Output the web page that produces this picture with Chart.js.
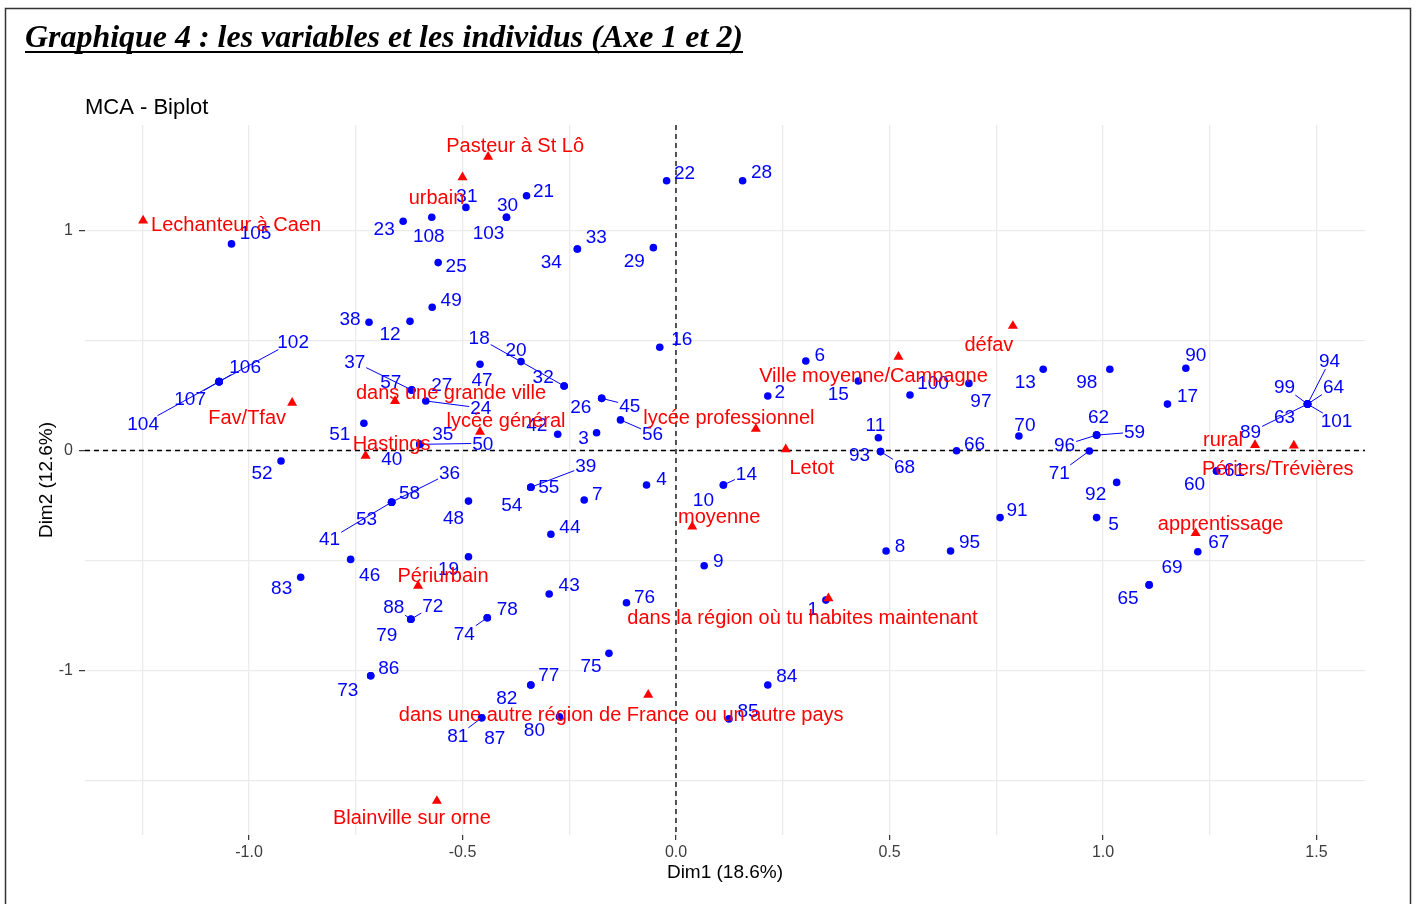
<!DOCTYPE html>
<html lang="fr">
<head>
<meta charset="utf-8">
<title>MCA - Biplot</title>
<script src="https://cdn.jsdelivr.net/npm/chart.js@4.4.1/dist/chart.umd.min.js"></script>
<style>
  html, body { margin: 0; padding: 0; background: #fff; }
  #wrap { position: relative; width: 1417px; height: 904px; }
</style>
</head>
<body>
<div id="wrap"><canvas id="biplot" width="1417" height="904"></canvas></div>
<script>
// Individuals 1..108 on the first two MCA dimensions
const indLabels = Array.from({ length: 108 }, (_, i) => String(i + 1));
const indDim1 = [
  0.351, 0.215, -0.186, -0.069, 0.985, 0.304, -0.215, 0.492, 0.066, 0.111,
  0.474, -0.623, 0.860, 0.111, 0.427, -0.038, 1.151, -0.262, -0.486, -0.363,
  -0.350, -0.022, -0.639, -0.586, -0.557, -0.174, -0.619, 0.156, -0.053, -0.397,
  -0.492, -0.262, -0.231, -0.231, -0.600, -0.666, -0.619, -0.719, -0.340, -0.600,
  -0.666, -0.277, -0.297, -0.293, -0.174, -0.762, -0.459, -0.486, -0.571, -0.600,
  -0.731, -0.925, -0.666, -0.340, -0.340, -0.130, -0.619, -0.666, 0.985, 1.266,
  1.266, 0.985, 1.479, 1.479, 1.108, 0.657, 1.222, 0.479, 1.108, 0.803,
  0.968, -0.621, -0.715, -0.442, -0.157, -0.116, -0.340, -0.442, -0.621, -0.273,
  -0.455, -0.340, -0.879, 0.215, 0.124, -0.715, -0.455, -0.621, 1.479, 1.194,
  0.759, 1.032, 0.479, 1.479, 0.643, 0.985, 0.686, 1.016, 1.479, 0.548,
  1.479, -1.070, -0.397, -1.070, -1.041, -1.070, -1.070, -0.572
];
const indDim2 = [
  -0.680, 0.248, 0.081, -0.157, -0.305, 0.407, -0.225, -0.457, -0.524, -0.157,
  0.058, 0.587, 0.369, -0.157, 0.316, 0.469, 0.211, 0.293, -0.483, 0.404,
  1.158, 1.226, 1.042, 0.225, 0.854, 0.237, 0.275, 1.226, 0.922, 1.060,
  1.105, 0.293, 0.916, 0.916, 0.028, -0.235, 0.275, 0.583, -0.167, 0.028,
  -0.235, 0.074, -0.652, -0.381, 0.237, -0.495, 0.392, -0.230, 0.651, 0.028,
  0.124, -0.048, -0.235, -0.167, -0.167, 0.139, 0.275, -0.235, 0.070, -0.093,
  -0.093, 0.070, 0.211, 0.211, -0.611, -0.001, -0.460, -0.005, -0.611, 0.066,
  -0.002, -0.767, -1.024, -0.760, -0.922, -0.692, -1.066, -0.760, -0.767, -1.210,
  -1.215, -1.066, -0.576, -1.066, -1.220, -1.024, -1.215, -0.767, 0.211, 0.374,
  -0.305, -0.145, -0.005, 0.211, -0.457, 0.070, 0.305, 0.369, 0.211, 0.252,
  0.211, 0.313, 1.060, 0.313, 0.939, 0.313, 0.313, 1.060
];

// Variable categories
const varLabels = [
  "Lechanteur à Caen", "Pasteur à St Lô", "urbain", "défav", "Ville moyenne/Campagne",
  "dans une grande ville", "Fav/Tfav", "lycée général", "lycée professionnel", "Hastings",
  "Letot", "rural", "Périers/Trévières", "moyenne", "apprentissage", "Périurbain",
  "dans la région où tu habites maintenant",
  "dans une autre région de France ou un autre pays", "Blainville sur orne"
];
const varDim1 = [
  -1.248, -0.440, -0.500, 0.789, 0.521, -0.658, -0.899, -0.459, 0.187, -0.727,
  0.257, 1.356, 1.447, 0.038, 1.217, -0.604, 0.357, -0.065, -0.560
];
const varDim2 = [
  1.045, 1.335, 1.242, 0.566, 0.426, 0.225, 0.217, 0.085, 0.098, -0.024,
  0.005, 0.025, 0.022, -0.346, -0.376, -0.615, -0.672, -1.111, -1.593
];

const xTickValues = [-1.25, -1, -0.75, -0.5, -0.25, 0, 0.25, 0.5, 0.75, 1, 1.25, 1.5];
const xTickLabels = ["", "-1.0", "", "-0.5", "", "0.0", "", "0.5", "", "1.0", "", "1.5"];
const yTickValues = [-1.5, -1, -0.5, 0, 0.5, 1];
const yTickLabels = ["", "-1", "", "0", "", "1"];

const heading = "Graphique 4 : les variables et les individus (Axe 1 et 2)";

// label placement (pixel nudges from each point), repelled-label style
const indNudge = [
  [-13, 9], [12, -4], [-13, 5], [15, -6], [17, 6], [14, -6], [13, -6], [14, -5], [14, -5], [-20, 15],
  [-3, -13], [-20, 12], [-18, 12], [23, -11], [-20, 13], [22, -9], [20, -8], [-85, -48], [-20, 12], [-5, -12],
  [17, -5], [18, -8], [-19, 8], [55, 7], [18, 3], [-21, 8], [30, -5], [19, -9], [-19, 13], [1, -13],
  [1, -12], [-21, -9], [19, -12], [-26, 13], [23, -11], [58, -29], [-57, -28], [-19, -3], [55, -21], [-28, 14],
  [-62, 37], [-21, -9], [20, -9], [19, -8], [28, 7], [19, 15], [2, 16], [-15, 17], [19, -8], [63, -1],
  [-24, 11], [-19, 12], [-25, 17], [-19, 18], [18, 0], [32, 14], [-21, -8], [18, -9], [38, -3], [-22, 13],
  [18, -1], [2, -18], [-23, 13], [26, -17], [-21, 13], [18, -7], [21, -10], [24, 15], [23, -18], [6, -11],
  [-30, 22], [22, -13], [-23, 14], [-23, 16], [-18, 12], [18, -6], [18, -10], [20, -9], [-24, 16], [-25, 13],
  [-24, 18], [-24, 13], [-19, 11], [19, -9], [19, -8], [18, -8], [13, 20], [-17, -12], [-57, 28], [10, -13],
  [17, -8], [-21, 11], [-21, 3], [22, -43], [19, -9], [-32, 10], [12, 17], [-23, 12], [-23, -17], [23, -12],
  [29, 17], [74, -40], [-18, 15], [-76, 42], [24, -11], [26, -15], [-29, 17], [-3, 18]
];
const indWithSegment = new Set(["14", "18", "24", "36", "37", "39", "41", "45", "50", "56", "59", "64", "68",
  "71", "72", "74", "81", "88", "89", "94", "96", "99", "101", "102", "104", "106", "107"]);
const varNudge = [
  [93, 4], [27, -11], [-26, 20], [-24, 19], [-25, 19], [56, -9], [-45, 15], [26, -11], [-27, -11], [26, -12],
  [26, 18], [-32, -6], [-16, 23], [27, -10], [25, -10], [25, -10], [-26, 19], [-27, 20], [-25, 17]
];

const SANS = '"Liberation Sans", Arial, Helvetica, sans-serif';

function drawLabels(ctx, points, names, nudges, color, size, withSegment) {
  ctx.save();
  ctx.font = size + 'px ' + SANS;
  ctx.textAlign = 'center';
  ctx.textBaseline = 'middle';
  ctx.strokeStyle = color;
  ctx.lineWidth = 1;
  // segments first, text on top
  points.forEach((pt, i) => {
    if (!withSegment || !withSegment.has(names[i])) return;
    const lx = pt.x + nudges[i][0], ly = pt.y + nudges[i][1];
    const hw = ctx.measureText(names[i]).width / 2 + 1;
    const hh = size * 0.42;
    const vx = pt.x - lx, vy = pt.y - ly;
    const s = Math.min(vx ? hw / Math.abs(vx) : Infinity, vy ? hh / Math.abs(vy) : Infinity);
    if (s >= 1) return;
    ctx.beginPath();
    ctx.moveTo(pt.x, pt.y);
    ctx.lineTo(lx + vx * s, ly + vy * s);
    ctx.stroke();
  });
  ctx.fillStyle = color;
  points.forEach((pt, i) => {
    ctx.fillText(names[i], pt.x + nudges[i][0], pt.y + nudges[i][1] + 1);
  });
  ctx.restore();
}

const biplotDecor = {
  id: 'biplotDecor',
  beforeDraw(chart) {
    const ctx = chart.ctx;
    ctx.save();
    ctx.fillStyle = '#fff';
    ctx.fillRect(0, 0, chart.width, chart.height);
    // outer frame
    ctx.strokeStyle = '#333';
    ctx.lineWidth = 1.5;
    ctx.strokeRect(5.5, 8.5, 1405, 900);
    // underlined heading, narrowed to its box
    ctx.fillStyle = '#000';
    ctx.font = 'italic bold 32px "Liberation Serif", "Times New Roman", serif';
    ctx.textBaseline = 'alphabetic';
    const w = ctx.measureText(heading).width;
    ctx.save();
    ctx.translate(25, 47);
    ctx.scale(718 / w, 1);
    ctx.fillText(heading, 0, 0);
    ctx.restore();
    ctx.fillRect(25, 51, 718, 2);
    // plot title
    ctx.font = '22px ' + SANS;
    ctx.fillText('MCA - Biplot', 85, 114);
    ctx.restore();
  },
  beforeDatasetsDraw(chart) {
    const { ctx, chartArea: a, scales } = chart;
    const x0 = scales.x.getPixelForValue(0);
    const y0 = scales.y.getPixelForValue(0);
    ctx.save();
    ctx.strokeStyle = '#000';
    ctx.lineWidth = 1.3;
    ctx.setLineDash([5, 4]);
    ctx.beginPath();
    ctx.moveTo(a.left, y0); ctx.lineTo(a.right, y0);
    ctx.moveTo(x0, a.top); ctx.lineTo(x0, a.bottom);
    ctx.stroke();
    ctx.restore();
  },
  afterDatasetDraw(chart, args) {
    const meta = chart.getDatasetMeta(args.index);
    if (args.index === 0) {
      drawLabels(chart.ctx, meta.data, indLabels, indNudge, '#0000ff', 19, indWithSegment);
    } else {
      drawLabels(chart.ctx, meta.data, varLabels, varNudge, '#ff0000', 20, null);
    }
  }
};

const indPoints = indDim1.map((x, i) => ({ x, y: indDim2[i] }));
const varPoints = varDim1.map((x, i) => ({ x, y: varDim2[i] }));

new Chart(document.getElementById('biplot'), {
  type: 'scatter',
  data: {
    datasets: [
      {
        label: 'individus',
        data: indPoints,
        pointStyle: 'circle',
        pointRadius: 3.8,
        pointBorderWidth: 0,
        backgroundColor: '#0000ff',
        borderColor: '#0000ff',
        order: 2
      },
      {
        label: 'variables',
        data: varPoints,
        pointStyle: 'triangle',
        pointRadius: 5.8,
        pointBorderWidth: 0,
        backgroundColor: '#ff0000',
        borderColor: '#ff0000',
        order: 1
      }
    ]
  },
  options: {
    responsive: false,
    animation: false,
    events: [],
    layout: { padding: { top: 125, right: 52, left: 0, bottom: 0 } },
    plugins: { legend: { display: false }, tooltip: { enabled: false } },
    scales: {
      x: {
        type: 'linear',
        min: -1.3841,
        max: 1.6136,
        afterBuildTicks: (s) => { s.ticks = xTickValues.map(v => ({ value: v })); },
        afterFit: (s) => { s.height = 69; },
        ticks: {
          autoSkip: false,
          maxRotation: 0,
          padding: 3,
          color: '#3d3d3d',
          font: { family: SANS, size: 16 },
          callback: (v) => xTickLabels[xTickValues.indexOf(v)] || ''
        },
        grid: {
          color: '#ebebeb',
          lineWidth: 1.3,
          tickLength: 5,
          tickWidth: 1.2,
          tickColor: (c) => (c.tick && xTickLabels[xTickValues.indexOf(c.tick.value)]) ? '#333' : 'rgba(0,0,0,0)'
        },
        border: { display: false },
        title: {
          display: true,
          text: 'Dim1 (18.6%)',
          color: '#000',
          font: { family: SANS, size: 19 },
          padding: { top: 0, bottom: 20 }
        }
      },
      y: {
        type: 'linear',
        min: -1.7477,
        max: 1.4795,
        afterBuildTicks: (s) => { s.ticks = yTickValues.map(v => ({ value: v })); },
        afterFit: (s) => { s.width = 85; },
        ticks: {
          autoSkip: false,
          padding: 6,
          color: '#3d3d3d',
          font: { family: SANS, size: 16 },
          callback: (v) => yTickLabels[yTickValues.indexOf(v)] || ''
        },
        grid: {
          color: '#ebebeb',
          lineWidth: 1.3,
          tickLength: 6,
          tickWidth: 1.2,
          tickColor: (c) => (c.tick && yTickLabels[yTickValues.indexOf(c.tick.value)]) ? '#333' : 'rgba(0,0,0,0)'
        },
        border: { display: false },
        title: {
          display: true,
          text: 'Dim2 (12.6%)',
          color: '#000',
          font: { family: SANS, size: 19 },
          padding: { top: 35, bottom: 0 }
        }
      }
    }
  },
  plugins: [biplotDecor]
});
</script>
</body>
</html>
